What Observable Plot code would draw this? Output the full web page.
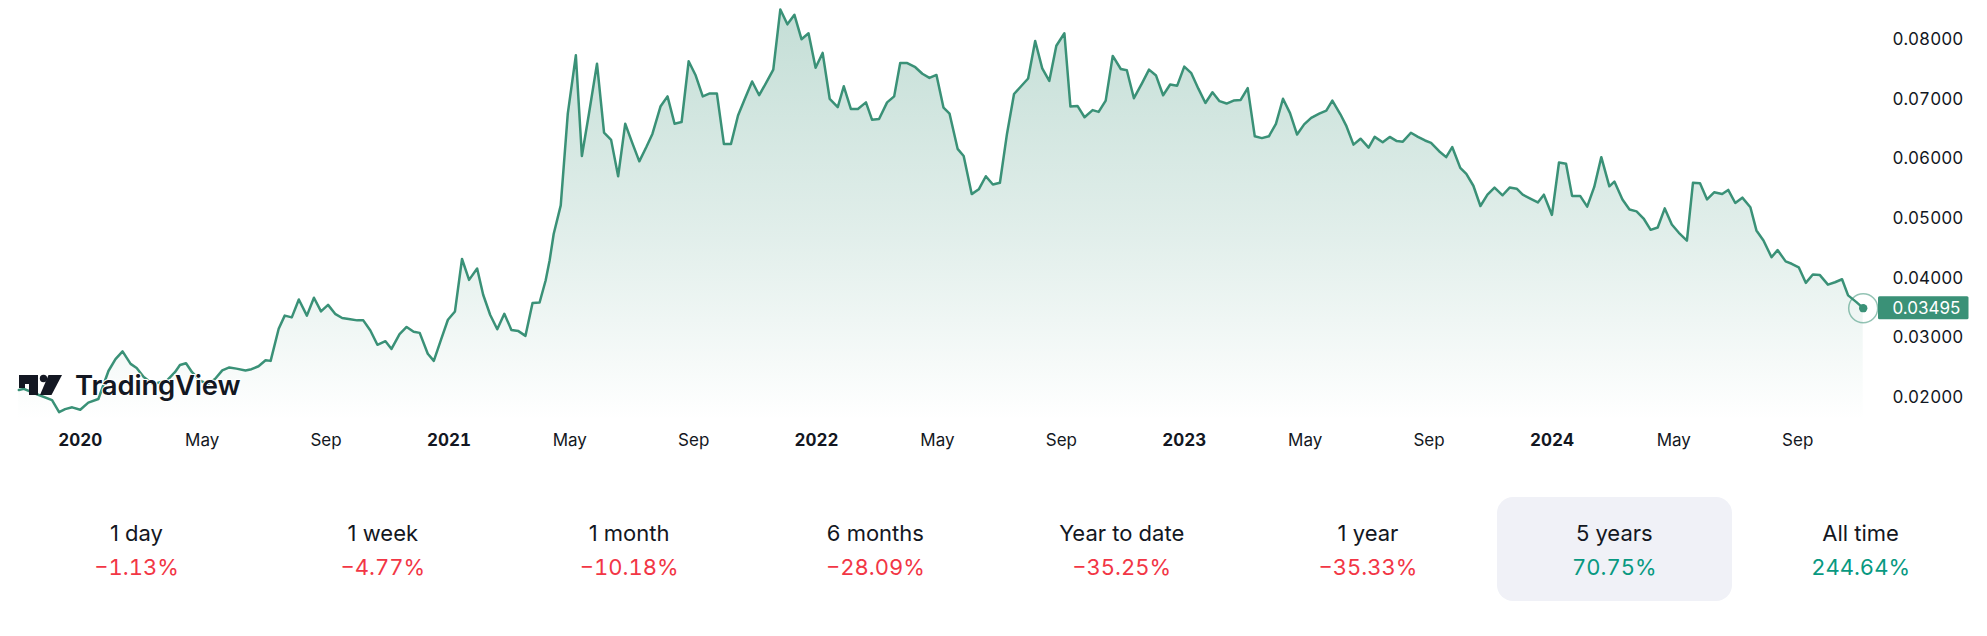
<!DOCTYPE html>
<html>
<head>
<meta charset="utf-8">
<script src="https://cdn.jsdelivr.net/npm/d3@7"></script>
<script src="https://cdn.jsdelivr.net/npm/@observablehq/plot@0.6"></script>
<style>
  html, body { margin: 0; padding: 0; background: #ffffff; }
  body { width: 1987px; height: 636px; position: relative; overflow: hidden; font-family: Inter, "Noto Sans", sans-serif; color: #131722; }
  #chart { position: absolute; left: 0; top: 0; }
  #logo { position: absolute; left: 0; top: 0; pointer-events: none; }
  #stats { position: absolute; left: 19px; top: 497px; display: flex; gap: 11.3px; }
  .cell { width: 235px; height: 104px; box-sizing: border-box; padding-top: 19px; text-align: center; border-radius: 16px; }
  .cell.active { background: #f0f1f7; }
  .lab { font-size: 22px; line-height: 34px; color: #131722; }
  .val { font-size: 22px; line-height: 34px; font-variant-numeric: tabular-nums; }
</style>
</head>
<body>
<div id="chart"></div>
<svg id="logo" width="300" height="420">
  <g fill="#131722">
    <path d="M19 375 H38 V395 H29 V384 H25 V388 H19 Z"/>
    <circle cx="43.5" cy="378.5" r="3.7"/>
    <path d="M48.5 375 H62 L51.5 395 H40 Z"/>
  </g>
  <text x="75" y="395" font-family="Inter, sans-serif" font-size="27.5" font-weight="600" fill="#131722" stroke="#ffffff" stroke-width="2" paint-order="stroke" letter-spacing="-0.2">TradingView</text>
</svg>
<div id="stats"></div>
<script>
// ---- data (weekly closes) ----
const dates = [
"2019-11-01","2019-11-06","2019-11-19","2019-12-04","2019-12-11","2019-12-17","2019-12-24",
"2020-01-01","2020-01-09","2020-01-19","2020-01-29","2020-02-05","2020-02-12","2020-02-20","2020-02-26",
"2020-03-04","2020-03-13","2020-03-27","2020-04-04","2020-04-09","2020-04-15","2020-04-21","2020-04-29",
"2020-05-07","2020-05-14","2020-05-21","2020-05-28","2020-06-04","2020-06-13","2020-06-19","2020-06-26",
"2020-07-03","2020-07-08","2020-07-16","2020-07-22","2020-07-29","2020-08-05","2020-08-13","2020-08-20","2020-08-27",
"2020-09-03","2020-09-10","2020-09-17","2020-09-25","2020-10-02","2020-10-08","2020-10-15","2020-10-22","2020-10-30",
"2020-11-05","2020-11-13","2020-11-20","2020-11-27","2020-12-03","2020-12-11","2020-12-17","2020-12-24","2020-12-31",
"2021-01-07","2021-01-14","2021-01-21","2021-01-29","2021-02-04","2021-02-11","2021-02-18","2021-02-25",
"2021-03-04","2021-03-11","2021-03-18","2021-03-25","2021-04-01","2021-04-07","2021-04-11","2021-04-15","2021-04-22","2021-04-29",
"2021-05-07","2021-05-13","2021-05-20","2021-05-28","2021-06-04","2021-06-11","2021-06-18","2021-06-25",
"2021-07-02","2021-07-09","2021-07-16","2021-07-22","2021-07-30","2021-08-06","2021-08-13","2021-08-20","2021-08-27",
"2021-09-03","2021-09-10","2021-09-17","2021-09-24","2021-10-01","2021-10-08","2021-10-15","2021-10-22","2021-10-29",
"2021-11-05","2021-11-12","2021-11-19","2021-11-26","2021-12-03","2021-12-10","2021-12-17","2021-12-24","2021-12-31",
"2022-01-07","2022-01-14","2022-01-22","2022-01-28","2022-02-04","2022-02-11","2022-02-19","2022-02-25",
"2022-03-04","2022-03-12","2022-03-19","2022-03-25","2022-04-01","2022-04-09","2022-04-16","2022-04-23","2022-04-30",
"2022-05-07","2022-05-13","2022-05-21","2022-05-27","2022-06-04","2022-06-11","2022-06-18","2022-06-25",
"2022-07-02","2022-07-09","2022-07-16","2022-07-23","2022-07-30","2022-08-06","2022-08-13","2022-08-20","2022-08-27",
"2022-09-04","2022-09-10","2022-09-17","2022-09-24","2022-10-02","2022-10-08","2022-10-15","2022-10-22","2022-10-30",
"2022-11-05","2022-11-12","2022-11-20","2022-11-27","2022-12-04","2022-12-11","2022-12-18","2022-12-25",
"2023-01-01","2023-01-08","2023-01-15","2023-01-22","2023-01-29","2023-02-05","2023-02-12","2023-02-19","2023-02-26",
"2023-03-05","2023-03-12","2023-03-19","2023-03-26","2023-04-02","2023-04-09","2023-04-16","2023-04-23","2023-04-30",
"2023-05-07","2023-05-15","2023-05-22","2023-05-28","2023-06-05","2023-06-11","2023-06-18","2023-06-25",
"2023-07-03","2023-07-09","2023-07-17","2023-07-24","2023-07-31","2023-08-06","2023-08-14","2023-08-21","2023-08-28",
"2023-09-03","2023-09-11","2023-09-18","2023-09-24","2023-10-02","2023-10-08","2023-10-15","2023-10-22","2023-10-29",
"2023-11-05","2023-11-13","2023-11-20","2023-11-27","2023-12-03","2023-12-11","2023-12-18","2023-12-24",
"2024-01-01","2024-01-08","2024-01-15","2024-01-21","2024-01-29","2024-02-05","2024-02-12","2024-02-19","2024-02-27",
"2024-03-03","2024-03-11","2024-03-18","2024-03-25","2024-04-01","2024-04-08","2024-04-15","2024-04-22","2024-04-29",
"2024-05-06","2024-05-14","2024-05-20","2024-05-27","2024-06-03","2024-06-10","2024-06-18","2024-06-24",
"2024-07-01","2024-07-08","2024-07-16","2024-07-22","2024-07-29","2024-08-06","2024-08-12","2024-08-20","2024-08-26",
"2024-09-02","2024-09-09","2024-09-16","2024-09-23","2024-10-01","2024-10-08","2024-10-15","2024-10-21","2024-10-29",
"2024-11-05"
];
const prices = [
0.0212,0.0214,0.0205,0.0195,0.0175,0.0180,0.0183,
0.0179,0.0191,0.0197,0.0244,0.0264,0.0277,0.0256,0.0249,
0.0234,0.0222,0.0228,0.0242,0.0254,0.0257,0.0242,0.0228,
0.0222,0.0231,0.0245,0.0250,0.0248,0.0245,0.0247,0.0252,
0.0262,0.0261,0.0315,0.0337,0.0334,0.0364,0.0337,0.0367,0.0344,
0.0355,0.0340,0.0333,0.0331,0.0329,0.0329,0.0312,0.0288,0.0294,
0.0281,0.0306,0.0318,0.0310,0.0308,0.0273,0.0261,0.0296,0.0330,
0.0344,0.0432,0.0397,0.0416,0.0372,0.0338,0.0314,0.0340,
0.0313,0.0311,0.0303,0.0358,0.0359,0.0396,0.0430,0.0474,0.0522,0.0676,
0.0774,0.0605,0.0676,0.0760,0.0644,0.0632,0.0571,0.0659,
0.0627,0.0596,0.0620,0.0642,0.0688,0.0705,0.0659,0.0662,0.0764,
0.0740,0.0705,0.0710,0.0710,0.0625,0.0625,0.0673,0.0702,0.0730,
0.0707,0.0728,0.0750,0.0851,0.0826,0.0842,0.0801,0.0811,0.0753,
0.0778,0.0701,0.0687,0.0722,0.0684,0.0684,0.0695,0.0666,
0.0667,0.0695,0.0705,0.0761,0.0761,0.0754,0.0743,0.0736,0.0741,
0.0686,0.0676,0.0617,0.0605,0.0541,0.0549,0.0571,0.0557,
0.0560,0.0642,0.0709,0.0722,0.0735,0.0798,0.0752,0.0731,0.0790,
0.0811,0.0688,0.0689,0.0670,0.0682,0.0679,0.0698,0.0773,0.0751,
0.0749,0.0702,0.0727,0.0750,0.0740,0.0707,0.0725,0.0723,
0.0755,0.0744,0.0718,0.0694,0.0712,0.0697,0.0693,0.0698,0.0699,
0.0719,0.0638,0.0635,0.0638,0.0659,0.0701,0.0677,0.0641,0.0658,
0.0669,0.0676,0.0681,0.0698,0.0675,0.0655,0.0624,0.0634,
0.0619,0.0637,0.0628,0.0637,0.0630,0.0629,0.0644,0.0637,0.0631,
0.0627,0.0613,0.0603,0.0620,0.0585,0.0575,0.0555,0.0521,0.0540,
0.0552,0.0539,0.0552,0.0550,0.0540,0.0533,0.0527,0.0540,
0.0506,0.0594,0.0592,0.0538,0.0538,0.0520,0.0553,0.0603,0.0554,
0.0562,0.0532,0.0515,0.0512,0.0500,0.0481,0.0485,0.0517,0.0490,
0.0476,0.0463,0.0560,0.0559,0.0532,0.0544,0.0541,0.0548,
0.0526,0.0535,0.0519,0.0480,0.0463,0.0435,0.0447,0.0428,0.0424,
0.0418,0.0392,0.0406,0.0405,0.0389,0.0393,0.0398,0.0371,0.0360,
0.03495
];
const yTicks = [0.02, 0.03, 0.04, 0.05, 0.06, 0.07, 0.08];
const xTickDates = ["2020-01-01","2020-05-01","2020-09-01","2021-01-01","2021-05-01","2021-09-01",
  "2022-01-01","2022-05-01","2022-09-01","2023-01-01","2023-05-01","2023-09-01","2024-01-01","2024-05-01","2024-09-01"];
const xTickLabels = ["2020","May","Sep","2021","May","Sep","2022","May","Sep","2023","May","Sep","2024","May","Sep"];
const periodLabels = ["1 day","1 week","1 month","6 months","Year to date","1 year","5 years","All time"];
const periodChanges = [-1.13,-4.77,-10.18,-28.09,-35.25,-35.33,70.75,244.64];
const activePeriod = "5 years";

// ---- build ----
const lineColor = "#3a9177";
const data = dates.map((d, i) => ({date: new Date(d + "T00:00:00Z"), price: prices[i]}));
const last = data[data.length - 1];
const yDomain = [0.01609, 0.0866];
const ticks = xTickDates.map((d, i) => ({date: new Date(d + "T00:00:00Z"), label: xTickLabels[i]}));
const yearTicks = ticks.filter(t => /^\d{4}$/.test(t.label));
const monthTicks = ticks.filter(t => !/^\d{4}$/.test(t.label));
const labelOf = new Map(ticks.map(t => [+t.date, t.label]));
const ns = "http://www.w3.org/2000/svg";

function gradientDefs() {
  const defs = document.createElementNS(ns, "defs");
  const lg = document.createElementNS(ns, "linearGradient");
  lg.setAttribute("id", "tvGrad");
  lg.setAttribute("x1", "0"); lg.setAttribute("y1", "0");
  lg.setAttribute("x2", "0"); lg.setAttribute("y2", "1");
  [[0, 0.30], [0.55, 0.15], [1, 0.0]].forEach(([o, a]) => {
    const s = document.createElementNS(ns, "stop");
    s.setAttribute("offset", o);
    s.setAttribute("stop-color", lineColor);
    s.setAttribute("stop-opacity", a);
    lg.appendChild(s);
  });
  defs.appendChild(lg);
  return defs;
}

function tagRect(index, scales, values, dimensions) {
  const dims = dimensions || {width: 1987, height: 460, marginTop: 0, marginBottom: 40, marginRight: 124.3};
  let y;
  if (scales && typeof scales.y === "function") y = scales.y(last.price);
  else {
    const h = dims.height - dims.marginTop - dims.marginBottom;
    y = dims.marginTop + (yDomain[1] - last.price) / (yDomain[1] - yDomain[0]) * h;
  }
  const r = document.createElementNS(ns, "rect");
  r.setAttribute("x", dims.width - dims.marginRight + 15.3);
  r.setAttribute("y", y - 11.5);
  r.setAttribute("width", 90.5);
  r.setAttribute("height", 23);
  r.setAttribute("rx", 1.5);
  r.setAttribute("fill", lineColor);
  return r;
}

const chart = Plot.plot({
  width: 1987,
  height: 460,
  marginLeft: 18.3,
  marginRight: 124.3,
  marginTop: 0,
  marginBottom: 40,
  style: {fontFamily: "Inter, sans-serif", background: "transparent", overflow: "visible"},
  x: {type: "utc", domain: [data[0].date, last.date], axis: null, label: null},
  y: {domain: yDomain, axis: null, label: null},
  marks: [
    gradientDefs,
    Plot.areaY(data, {x: "date", y1: yDomain[0], y2: "price", fill: "url(#tvGrad)"}),
    Plot.lineY(data, {x: "date", y: "price", stroke: lineColor, strokeWidth: 2.5, strokeLinejoin: "round"}),
    Plot.axisY({anchor: "right", ticks: yTicks, tickFormat: d3.format(".5f"), tickSize: 0, tickPadding: 29.3,
      fontSize: 17, fill: "#131722", label: null}),
    Plot.axisX({anchor: "bottom", ticks: monthTicks.map(t => t.date), tickFormat: d => labelOf.get(+d),
      tickSize: 0, tickPadding: 13, fontSize: 17, fill: "#131722", label: null}),
    Plot.axisX({anchor: "bottom", ticks: yearTicks.map(t => t.date), tickFormat: d => labelOf.get(+d),
      tickSize: 0, tickPadding: 13, fontSize: 17, fontWeight: "bold", fill: "#131722", label: null}),
    Plot.dot([last], {x: "date", y: "price", r: 14.5, stroke: lineColor, strokeOpacity: 0.55, strokeWidth: 1.5, fill: "none"}),
    Plot.dot([last], {x: "date", y: "price", r: 4.2, fill: lineColor, stroke: "none"}),
    tagRect,
    Plot.text([last], {x: "date", y: "price", text: d => d3.format(".5f")(d.price), dx: 29.3, textAnchor: "start",
      fill: "#ffffff", fontSize: 17})
  ]
});
document.getElementById("chart").appendChild(chart);

// ---- stats row ----
const stats = document.getElementById("stats");
periodLabels.forEach((lab, i) => {
  const v = periodChanges[i];
  const cell = document.createElement("div");
  cell.className = "cell" + (lab === activePeriod ? " active" : "");
  const l = document.createElement("div");
  l.className = "lab";
  l.textContent = lab;
  const val = document.createElement("div");
  val.className = "val";
  val.style.color = v < 0 ? "#f23645" : "#089981";
  val.textContent = (v < 0 ? "\u2212" : "") + Math.abs(v).toFixed(2) + "%";
  cell.appendChild(l);
  cell.appendChild(val);
  stats.appendChild(cell);
});
</script>
</body>
</html>
